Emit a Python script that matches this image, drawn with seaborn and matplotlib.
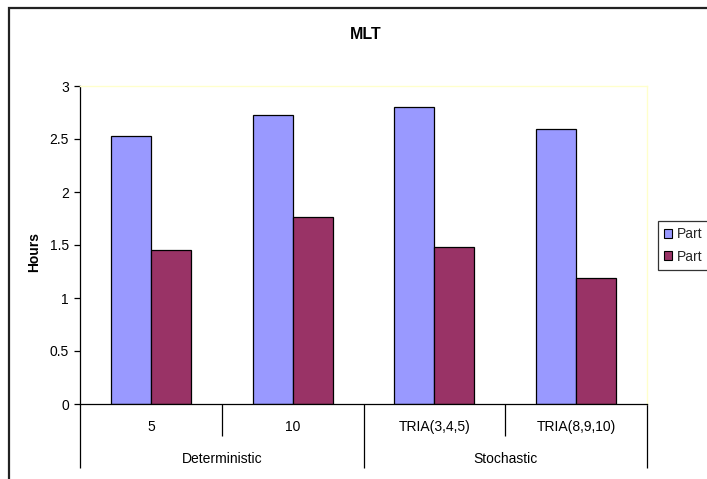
import matplotlib
matplotlib.use("Agg")
import matplotlib.pyplot as plt
import matplotlib.patches as mpatches
import matplotlib.transforms as mtransforms
import seaborn as sns
import pandas as pd

# Chart data
categories = ["5", "10", "TRIA(3,4,5)", "TRIA(8,9,10)"]
groups = ["Deterministic", "Stochastic"]
group_sizes = [2, 2]
series_names = ["Part", "Part"]
series_a = [2.53, 2.73, 2.80, 2.59]
series_b = [1.45, 1.76, 1.48, 1.19]
y_ticks = [0, 0.5, 1, 1.5, 2, 2.5, 3]
y_tick_labels = ["0", "0.5", "1", "1.5", "2", "2.5", "3"]

colors = ["#9999FF", "#993366"]

sns.set_theme(style="white")
plt.rcParams["font.family"] = ["Liberation Sans", "DejaVu Sans"]

W, H = 707, 479
fig = plt.figure(figsize=(W / 100, H / 100), dpi=100)
fig.patch.set_facecolor("white")

ax_l, ax_r, ax_t, ax_b = 80, 647, 86, 404
ax_h = ax_b - ax_t
ax = fig.add_axes([ax_l / W, 1 - ax_b / H, (ax_r - ax_l) / W, ax_h / H])

keys = ["s0", "s1"]
df = pd.DataFrame({
    "category": categories * 2,
    "value": series_a + series_b,
    "series": [keys[0]] * len(categories) + [keys[1]] * len(categories),
})

sns.barplot(data=df, x="category", y="value", hue="series", order=categories,
            hue_order=keys, palette=colors, width=0.564, edgecolor="black",
            linewidth=0.9, saturation=1, ax=ax, legend=False)

ax.set_xlim(-0.5, len(categories) - 0.5)
ax.set_ylim(0, 3)
ax.set_yticks(y_ticks)
ax.set_yticklabels(y_tick_labels, fontsize=10, color="black")
ax.tick_params(axis="y", which="both", left=True, length=4, width=0.9,
               color="black", pad=4, direction="out")
ax.tick_params(axis="x", bottom=False, labelbottom=False)
ax.set_xlabel("")
ax.set_ylabel("")

for side in ("left", "bottom"):
    ax.spines[side].set_color("black")
    ax.spines[side].set_linewidth(0.9)
for side in ("top", "right"):
    ax.spines[side].set_color("#FFFFCC")
    ax.spines[side].set_linewidth(1.0)
    ax.spines[side].set_visible(True)

# Value axis title
fig.text(34.5 / W, 1 - 252.5 / H, "Hours", rotation=90, ha="center", va="center",
         fontsize=10, fontweight="bold", color="black")

# Two-level category axis
trans = mtransforms.blended_transform_factory(ax.transData, ax.transAxes)
short_len = -32 / ax_h
long_len = -64 / ax_h
group_edges = [-0.5]
pos = -0.5
for n in group_sizes:
    pos += n
    group_edges.append(pos)
for i in range(len(categories) + 1):
    x = i - 0.5
    y_end = long_len if x in group_edges else short_len
    ax.plot([x, x], [0, y_end], color="black", lw=0.9, transform=trans,
            clip_on=False, solid_capstyle="butt")
for i, c in enumerate(categories):
    ax.text(i, -23 / ax_h, c, transform=trans, ha="center", va="center",
            fontsize=10, color="black")
start = 0
for g, n in zip(groups, group_sizes):
    center = start + (n - 1) / 2
    ax.text(center, -55 / ax_h, g, transform=trans, ha="center",
            va="center", fontsize=10, color="black")
    start += n

# Title
fig.text(366 / W, 1 - 34.5 / H, "MLT", ha="center", va="center",
         fontsize=11.5, fontweight="bold", color="black")

# Legend
handles = [mpatches.Patch(facecolor=c, edgecolor="black", linewidth=0.8)
           for c in colors]
leg = fig.legend(handles, series_names, loc="upper left",
                 bbox_to_anchor=(658 / W, 1 - 221 / H),
                 bbox_transform=fig.transFigure, frameon=True, fancybox=False,
                 edgecolor="black", fontsize=10, handlelength=0.55,
                 handleheight=0.55, handletextpad=0.35, borderpad=0.45,
                 labelspacing=0.6, borderaxespad=0)
leg.get_frame().set_linewidth(0.9)

# Chart area frame
frame = mpatches.Rectangle((9 / W, -0.2), 2.0, 1.2 - 8 / H, transform=fig.transFigure,
                           fill=False, edgecolor="#222222", linewidth=1.6,
                           clip_on=False)
fig.patches.append(frame)

fig.savefig("out.png", dpi=100, facecolor="white")
